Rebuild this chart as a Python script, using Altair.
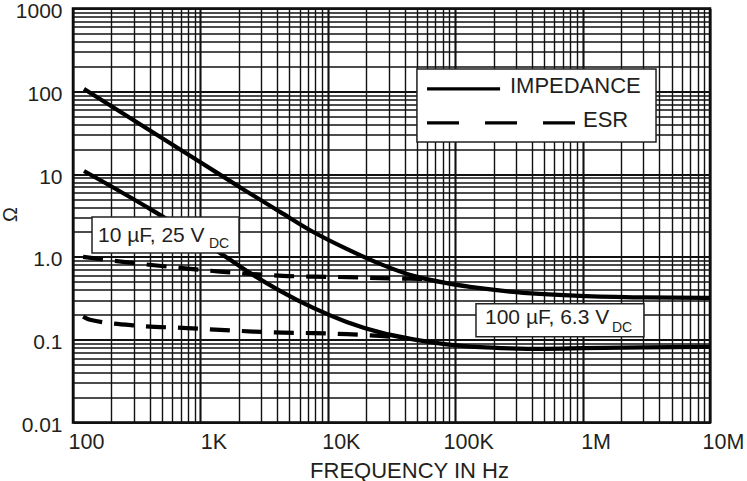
import altair as alt
import pandas as pd

FONT = "Liberation Sans"
INK = "#231f20"

# ---- curve data (frequency in Hz, value in ohms) ----
z10_freq = [122, 993, 2307, 4217, 7690, 14060, 25700, 46900, 85700, 156700, 269000, 955000, 3000000, 10000000]
z10_ohm = [107, 14.0, 6.18, 3.50, 2.00, 1.25, 0.823, 0.590, 0.482, 0.419, 0.381, 0.338, 0.324, 0.320]
esr10_freq = [120, 247, 692, 1426, 2449, 4446, 7655, 14160, 25700, 44200, 60000]
esr10_ohm = [1.0, 0.871, 0.738, 0.665, 0.624, 0.590, 0.578, 0.569, 0.553, 0.545, 0.540]
z100_freq = [122, 402, 1426, 2307, 4217, 7690, 14060, 25700, 46900, 85700, 156700, 269000, 500000, 1000000, 3000000, 10000000]
z100_ohm = [10.9, 3.8, 1.116, 0.678, 0.389, 0.242, 0.164, 0.1227, 0.101, 0.0879, 0.0813, 0.0787, 0.0776, 0.079, 0.081, 0.082]
esr100_freq = [120, 136, 336, 785, 1426, 2588, 4446, 7655, 14160, 25700, 33700]
esr100_ohm = [0.19, 0.174, 0.147, 0.138, 0.1316, 0.1255, 0.122, 0.120, 0.1166, 0.111, 0.108]

# ---- axes ----
x_decades = [100, 1000, 10000, 100000, 1000000, 10000000]
x_labels = ["100", "1K", "10K", "100K", "1M", "10M"]
y_decades = [0.01, 0.1, 1, 10, 100, 1000]
y_labels = ["0.01", "0.1", "1.0", "10", "100", "1000"]
multipliers = [1, 2, 3, 4, 5, 6, 7, 8, 9]

x_grid = sorted({round(m * d, 6) for d in x_decades[:-1] for m in multipliers} | {x_decades[-1]})
y_grid = sorted({round(m * d, 6) for d in y_decades[:-1] for m in multipliers} | {y_decades[-1]})

# ---- annotations (in data coordinates) ----
box_f = [50100, 141, 145600]
box_f2 = [3770000, 2010, 3030000]
box_ohm = [186, 3.04, 0.271]
box_ohm2 = [24.5, 1.118, 0.1083]

leg_f = [60100, 60100]
leg_f2 = [225000, 871000]
leg_ohm = [107, 41.5]

leg_text = ["IMPEDANCE", "ESR"]
leg_text_f = [269000, 1007000]
leg_text_ohm = [95.5, 37.1]

note_text = ["10 µF, 25 V", "100 µF, 6.3 V"]
note_f = [157, 171400]
note_ohm = [1.518, 0.1553]
sub_text = ["DC", "DC"]
sub_f = [1168, 1700000]
sub_ohm = [1.285, 0.1245]


def label_expr(values, texts):
    parts = [f"abs(datum.value-{v})<{v * 1e-6}?'{t}'" for v, t in zip(values, texts)]
    return ":".join(parts) + ":''"


decade_test = "abs(log(datum.value)/LN10 - round(log(datum.value)/LN10)) < 0.001"
grid_width = {"condition": {"test": decade_test, "value": 2.1}, "value": 1.4}

xs = alt.Scale(type="log", domain=[100, 10000000], nice=False)
ys = alt.Scale(type="log", domain=[0.01, 1000], nice=False)

x_axis = alt.Axis(
    values=x_grid, labelExpr=label_expr(x_decades, x_labels), title="FREQUENCY IN Hz",
    grid=True, gridColor="#111111", gridWidth=grid_width, gridOpacity=1,
    ticks=False, domain=False, labelFlush=False, labelOverlap=False, labelBound=False,
    labelPadding=9, labelOffset=13, labelFont=FONT, labelFontSize=21.5, labelColor=INK,
    titleFont=FONT, titleFontSize=22, titleFontWeight="normal", titleColor=INK,
    titleX=336, titleY=54.5, titleAlign="center", titleBaseline="alphabetic",
)
y_axis = alt.Axis(
    values=y_grid, labelExpr=label_expr(y_decades, y_labels), title="Ω",
    grid=True, gridColor="#111111", gridWidth=grid_width, gridOpacity=1,
    ticks=False, domain=False, labelFlush=False, labelOverlap=False, labelBound=False,
    labelPadding=11, labelOffset=3, labelFont=FONT, labelFontSize=21, labelColor=INK,
    titleFont=FONT, titleFontSize=20, titleFontWeight="normal", titleColor=INK,
    titleX=-63, titleY=205.5, titleAlign="center", titleBaseline="middle", titleAngle=270,
)


def X():
    return alt.X("f:Q", scale=xs, axis=x_axis)


def Y():
    return alt.Y("ohm:Q", scale=ys, axis=y_axis)


def frame(freq, ohm, cap, kind):
    return pd.DataFrame({"f": freq, "ohm": ohm, "cap": cap, "kind": kind})


curves = pd.concat([
    frame(z10_freq, z10_ohm, "10uF", "IMPEDANCE"),
    frame(esr10_freq, esr10_ohm, "10uF", "ESR"),
    frame(z100_freq, z100_ohm, "100uF", "IMPEDANCE"),
    frame(esr100_freq, esr100_ohm, "100uF", "ESR"),
])

base = alt.Chart(curves)
imp = base.transform_filter("datum.kind == 'IMPEDANCE'").mark_line(
    color="black", strokeWidth=4.2, interpolate="monotone"
).encode(x=X(), y=Y(), detail="cap:N")
esr = base.transform_filter("datum.kind == 'ESR'").mark_line(
    color="black", strokeWidth=4.2, interpolate="monotone", strokeDash=[20, 12]
).encode(x=X(), y=Y(), detail="cap:N")

boxes = alt.Chart(pd.DataFrame({"f": box_f, "f2": box_f2, "ohm": box_ohm, "ohm2": box_ohm2})).mark_rect(
    fill="white", stroke="#222222", strokeWidth=1.5
).encode(x=X(), x2="f2:Q", y=Y(), y2="ohm2:Q")

legdf = pd.DataFrame({"f": leg_f, "f2": leg_f2, "ohm": leg_ohm, "kind": ["IMPEDANCE", "ESR"]})
leg_solid = alt.Chart(legdf).transform_filter("datum.kind == 'IMPEDANCE'").mark_rule(
    color="black", strokeWidth=3.3
).encode(x=X(), x2="f2:Q", y=Y())
leg_dash = alt.Chart(legdf).transform_filter("datum.kind == 'ESR'").mark_rule(
    color="black", strokeWidth=3.3, strokeDash=[32, 26]
).encode(x=X(), x2="f2:Q", y=Y())

leg_labels = alt.Chart(pd.DataFrame({"f": leg_text_f, "ohm": leg_text_ohm, "t": leg_text})).mark_text(
    font=FONT, fontSize=22, color=INK, align="left", baseline="alphabetic"
).encode(x=X(), y=Y(), text="t:N")

notes = alt.Chart(pd.DataFrame({"f": note_f, "ohm": note_ohm, "t": note_text})).mark_text(
    font=FONT, fontSize=21, color=INK, align="left", baseline="alphabetic"
).encode(x=X(), y=Y(), text="t:N")

subs = alt.Chart(pd.DataFrame({"f": sub_f, "ohm": sub_ohm, "t": sub_text})).mark_text(
    font=FONT, fontSize=14, color=INK, align="left", baseline="alphabetic"
).encode(x=X(), y=Y(), text="t:N")

chart = alt.layer(imp, esr, boxes, leg_solid, leg_dash, leg_labels, notes, subs).properties(
    width=637, height=414,
    autosize=alt.AutoSizeParams(type="none"),
    padding={"left": 73, "top": 8.5, "right": 37, "bottom": 58.5},
    background="white",
).configure_view(stroke="black", strokeWidth=2.5)

chart.save("out.html", embed_options={"renderer": "svg", "actions": False})
